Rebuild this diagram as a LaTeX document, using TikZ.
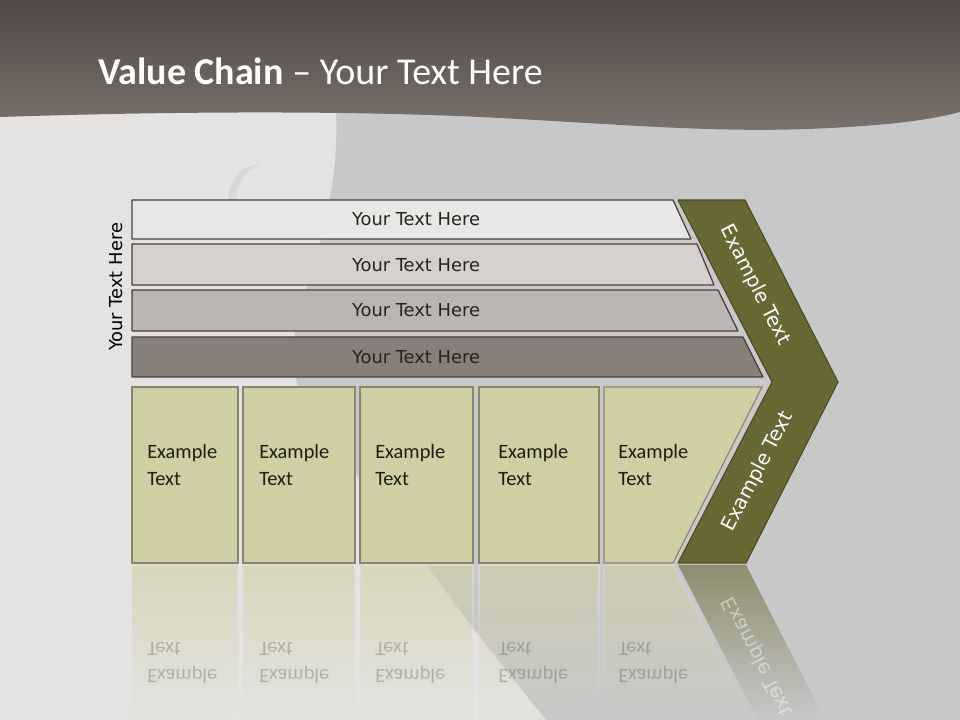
\documentclass[tikz,border=0pt]{standalone}
\usepackage{fontspec}
\setmainfont{Carlito}
\newfontfamily\chainsans{DejaVu Sans}
\usetikzlibrary{fadings}
\definecolor{chainpaper}{HTML}{C9C8C9}
\definecolor{chainlight}{HTML}{E4E3E1}
\definecolor{chaintop}{HTML}{4F4945}
\definecolor{chainband}{HTML}{7B736D}
\definecolor{chainbarA}{HTML}{E8E7E6}
\definecolor{chainbarB}{HTML}{D4D1CF}
\definecolor{chainbarC}{HTML}{BAB5B1}
\definecolor{chainbarD}{HTML}{877F79}
\definecolor{chainline}{HTML}{45403D}
\definecolor{chainkhaki}{HTML}{D0CFA4}
\definecolor{chainkhakiline}{HTML}{86856F}
\definecolor{chainolive}{HTML}{676834}
\definecolor{chainoliveline}{HTML}{4B4B27}
\definecolor{chainink}{HTML}{1E1E12}
\tikzfading[name=chainfade,top color=transparent!40,bottom color=transparent!100]
\tikzset{
  barbox/.style={draw=chainline,line width=.9pt,line join=round},
  bartext/.style={font=\chainsans\fontsize{12.7}{15}\selectfont,
    text=chainink!80!chainline,inner sep=0pt},
  cellbox/.style={draw=chainkhakiline,line width=.8pt,fill=chainkhaki},
  celltext/.style={anchor=west,align=left,inner sep=0pt,text=chainink,
    font=\fontsize{14.5}{18.5}\selectfont},
  cellshadow/.style={fill=chainkhaki,draw=chainpaper!60!white,line width=.8pt,
    path fading=chainfade},
  shadowtext/.style={celltext,yscale=-1,opacity=.24},
  chevtext/.style={text=white,inner sep=0pt,font=\chainsans\fontsize{14}{16}\selectfont}
}

\begin{document}
\begin{tikzpicture}[x=0.025cm,y=-0.025cm]
    \useasboundingbox (0,0) rectangle (960,720);
    \fill[chainpaper] (0,0) rectangle (960,720);
    \fill[chainlight] (0,110) -- (336,110) .. controls (342,250) and (270,330) .. (300,390)
      .. controls (340,460) and (400,530) .. (430,570)
      .. controls (480,640) and (530,700) .. (546,720) -- (0,720) -- cycle;
    \fill[black,opacity=.05] (228,205) .. controls (228,180) and (238,166) .. (262,164)
      .. controls (244,170) and (236,184) .. (236,205) -- cycle;
    \shade[top color=chaintop,bottom color=chainband] (0,0) -- (960,0) -- (960,112)
      .. controls (930,120) and (890,125) .. (830,128)
      .. controls (720,134) and (620,124) .. (480,117)
      .. controls (330,110) and (150,112) .. (0,117) -- cycle;
    \node[anchor=base west,text=white,inner sep=0pt,
      font=\fontsize{27}{32}\selectfont] (title) at (98,85)
      {\textbf{Value Chain} -- Your Text Here};

    \node[bartext,rotate=90,text=black] (side) at (116,287) {Your Text Here};

    \draw[barbox,fill=chainbarA] (132,200) -- (673,200) -- (691,239) -- (132,239) -- cycle;
    \draw[barbox,fill=chainbarB] (132,244) -- (697,244) -- (714,285) -- (132,285) -- cycle;
    \draw[barbox,fill=chainbarC] (132,290) -- (718,290) -- (738,331) -- (132,331) -- cycle;
    \draw[barbox,fill=chainbarD] (132,337) -- (743,337) -- (763,377) -- (132,377) -- cycle;
    \node[bartext] (bar1) at (416,219.5) {Your Text Here};
    \node[bartext] (bar2) at (416,265) {Your Text Here};
    \node[bartext] (bar3) at (416,310.5) {Your Text Here};
    \node[bartext] (bar4) at (416,357) {Your Text Here};

    \draw[fill=chainolive,draw=chainoliveline,line width=.8pt,line join=round]
      (678,200) -- (745,200) -- (838,382) -- (746,563) -- (678,563) -- (772,382) -- cycle;
    \node[chevtext,rotate=-62.9] (chevup) at (755,285) {Example Text};
    \node[chevtext,rotate=62.6] (chevdown) at (758,472) {Example Text};

    \draw[cellbox] (132,387) rectangle (238,563);
    \draw[cellbox] (243,387) rectangle (355,563);
    \draw[cellbox] (360,387) rectangle (473,563);
    \draw[cellbox] (479,387) rectangle (599,563);
    \draw[cellbox] (604,387) -- (762,387) -- (673,563) -- (604,563) -- cycle;
    \node[celltext] (cell1) at (147,465) {Example\\Text};
    \node[celltext] (cell2) at (259,465) {Example\\Text};
    \node[celltext] (cell3) at (375,465) {Example\\Text};
    \node[celltext] (cell4) at (498,465) {Example\\Text};
    \node[celltext] (cell5) at (618,465) {Example\\Text};

    \draw[cellshadow] (132,565) rectangle (238,720);
    \draw[cellshadow] (243,565) rectangle (355,720);
    \draw[cellshadow] (360,565) rectangle (473,720);
    \draw[cellshadow] (479,565) rectangle (599,720);
    \draw[cellshadow] (604,565) -- (673,565) -- (752,720) -- (604,720) -- cycle;
    \fill[chainolive,path fading=chainfade] (678,565) -- (746,565) -- (825,720) -- (758,720) -- cycle;
    \node[shadowtext] (mirror1) at (147,663) {Example\\Text};
    \node[shadowtext] (mirror2) at (259,663) {Example\\Text};
    \node[shadowtext] (mirror3) at (375,663) {Example\\Text};
    \node[shadowtext] (mirror4) at (498,663) {Example\\Text};
    \node[shadowtext] (mirror5) at (618,663) {Example\\Text};
    \node[chevtext,rotate=-62.6,yscale=-1,opacity=.45] (mirrorchev) at (758,656) {Example Text};
  \end{tikzpicture}
\end{document}
